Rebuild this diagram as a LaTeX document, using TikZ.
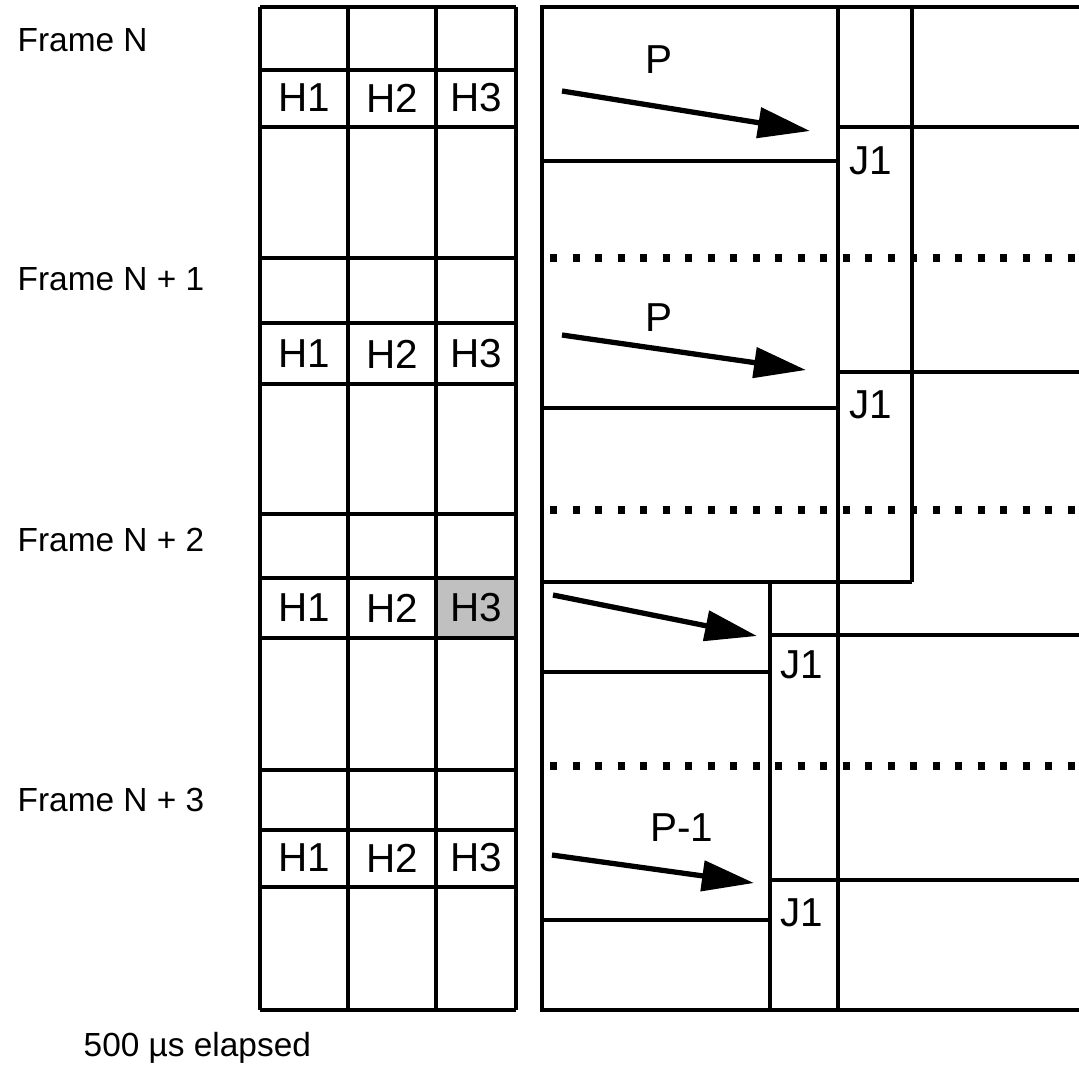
\documentclass[tikz,border=0pt]{standalone}
\usepackage{fontspec}
\setmainfont{Liberation Sans}
\usetikzlibrary{arrows.meta}
\definecolor{slotgrey}{RGB}{192,192,192}

\begin{document}
\begin{tikzpicture}[x=0.01cm,y=-0.01cm,
    rule/.style={line width=0.9pt},
    dotrule/.style={line width=2.2pt,dash pattern=on 2pt off 4.4pt},
    jump/.style={line width=1.5pt,-{Triangle[length=0.52cm,width=0.3cm]}},
    lab/.style={font=\fontsize{11.5}{13}\selectfont,inner sep=0pt},
    side/.style={font=\fontsize{9.5}{11}\selectfont,anchor=west,inner sep=0pt}]
  \useasboundingbox (0,0) rectangle (1079,1069);

  % left grid
  \fill[slotgrey] (436,578) rectangle (516,638);
  \foreach \x in {260,348,436,516}
    \draw[rule] (\x,7) -- (\x,1010);
  \foreach \y in {7,70,127,258,323,384,514,578,638,770,830,887,1010}
    \draw[rule] (260,\y) -- (516,\y);
  \foreach \y/\n in {98/a,354/b,608/c,858/d} {
    \node[lab] (h1\n) at (304,\y) {H1};
    \node[lab] (h2\n) at (392,\y) {H2};
    \node[lab] (h3\n) at (476,\y) {H3};
  }

  % frame labels
  \node[side] (frame0) at (17,40) {Frame N};
  \node[side] (frame1) at (17,279) {Frame N + 1};
  \node[side] (frame2) at (17,540) {Frame N + 2};
  \node[side] (frame3) at (17,800) {Frame N + 3};
  \node[side] (elapsed) at (83,1048) {500 µs elapsed};

  % right panel
  \draw[rule] (1079,7) -- (542,7) -- (542,1010) -- (1079,1010);
  \draw[rule] (838,7) -- (838,1010);
  \draw[rule] (912,7) -- (912,582);
  \draw[rule] (770,582) -- (770,1010);
  \draw[rule] (542,161) -- (838,161);
  \draw[rule] (838,127) -- (1079,127);
  \draw[rule] (542,408) -- (838,408);
  \draw[rule] (838,372) -- (1079,372);
  \draw[rule] (542,582) -- (912,582);
  \draw[rule] (770,635) -- (1079,635);
  \draw[rule] (542,672) -- (770,672);
  \draw[rule] (770,880) -- (1079,880);
  \draw[rule] (542,920) -- (770,920);
  \foreach \y in {258,510,766}
    \draw[dotrule] (550,\y) -- (1079,\y);

  \node[lab] (j1a) at (871,161) {J1};
  \node[lab] (j1b) at (871,405) {J1};
  \node[lab] (j1c) at (802,665) {J1};
  \node[lab] (j1d) at (802,913) {J1};

  % pointers
  \coordinate (pa) at (562,91);  \coordinate (qa) at (810,131);
  \coordinate (pb) at (562,335); \coordinate (qb) at (806,370);
  \coordinate (pc) at (553,595); \coordinate (qc) at (757,636);
  \coordinate (pd) at (552,855); \coordinate (qd) at (754,883);
  \draw[jump] (pa) -- (qa);
  \draw[jump] (pb) -- (qb);
  \draw[jump] (pc) -- (qc);
  \draw[jump] (pd) -- (qd);
  \node[lab] (pla) at (659,60) {P};
  \node[lab] (plb) at (659,318) {P};
  \node[lab] (pld) at (682,828) {P-1};
\end{tikzpicture}
\end{document}
